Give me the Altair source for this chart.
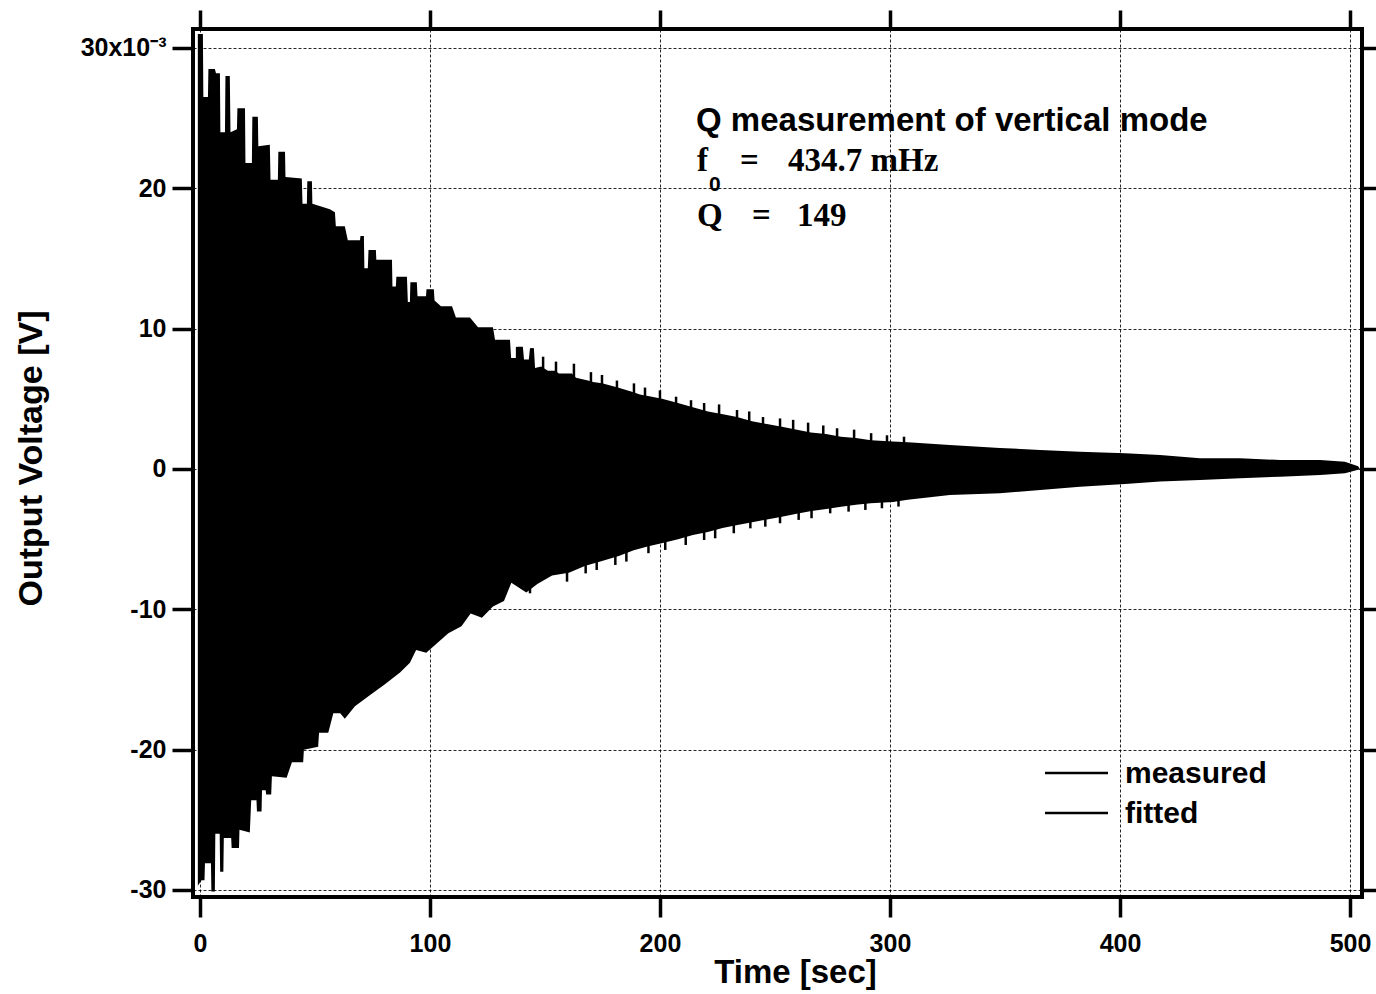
import altair as alt
import pandas as pd

# ---- data (time in s, voltage in mV = 1e-3 V) ----
# upper edge (positive peaks) of the measured ring-down
t_upper = [-0.9, 1.3, 1.5, 3.5, 3.7, 6.5, 7.0, 8.7, 8.9, 10.9, 11.1, 13.0, 13.3, 16.1, 16.3, 19.6,
           19.8, 22.6, 22.8, 25.2, 25.4, 30.4, 30.7, 33.9, 34.1, 37.0, 37.2, 44.3, 44.6, 46.5, 46.7,
           48.7, 48.9, 56.5, 58.7, 59.1, 63.0, 64.3, 69.6, 69.8, 71.3, 71.5, 73.0, 73.3, 76.5, 76.7,
           83.5, 83.7, 85.2, 85.4, 90.0, 90.4, 91.3, 91.5, 94.3, 94.6, 98.3, 98.5, 101.7, 102.0,
           104.8, 109.6, 111.3, 117.4, 120.9, 127.4, 128.3, 134.8, 135.3, 137.8, 138.3, 140.4, 140.9,
           143.0, 143.5, 145.2, 145.7, 148.3, 151.3, 154.3, 156.1, 161.7, 163.5, 168.7, 170.9, 174.8,
           181.7, 187.8, 191.3, 194.8, 200.9, 207.8, 214.3, 220.9, 227.4, 233.5, 240.0, 246.5, 253.0,
           259.6, 265.6, 272.2, 278.7, 285.2, 291.7, 301.3, 307.8, 326.0, 347.8, 365.3, 382.6, 402.2,
           417.4, 434.8, 452.2, 469.6, 487.0, 497.8, 503.5, 504.3]
v_upper = [31.0, 31.0, 26.5, 26.5, 28.5, 28.5, 28.2, 28.2, 24.0, 24.0, 28.0, 28.0, 24.0, 24.2, 25.7, 25.7,
           21.8, 21.8, 25.1, 25.1, 23.0, 23.1, 20.6, 20.6, 22.6, 22.6, 20.8, 20.7, 18.9, 18.9, 20.5,
           20.5, 18.9, 18.5, 18.3, 17.3, 17.3, 16.3, 16.3, 16.6, 16.6, 14.3, 14.3, 15.6, 15.6, 14.9,
           14.9, 13.0, 13.0, 13.7, 13.7, 11.9, 11.9, 13.3, 13.3, 12.3, 12.3, 12.8, 12.8, 12.0,
           11.6, 11.6, 10.8, 10.8, 10.1, 10.1, 9.2, 9.2, 7.9, 7.9, 8.7, 8.7, 7.8,
           7.8, 8.6, 8.6, 7.2, 7.3, 7.0, 7.0, 6.8, 6.8, 6.5, 6.3, 6.2, 6.1,
           5.8, 5.5, 5.3, 5.2, 5.0, 4.7, 4.4, 4.1, 3.9, 3.7, 3.4, 3.2, 3.0,
           2.8, 2.6, 2.5, 2.3, 2.2, 2.05, 1.95, 1.9, 1.7, 1.5, 1.35, 1.23, 1.12,
           1.0, 0.76, 0.76, 0.64, 0.64, 0.52, 0.2, 0.0]

# lower edge (negative peaks)
t_lower = [-0.9, 0.7, 2.0, 2.2, 4.8, 5.0, 6.5, 6.7, 8.6, 8.8, 10.2, 10.4, 13.6, 13.8, 17.0, 17.2,
           21.7, 22.3, 24.6, 24.8, 26.8, 27.0, 28.6, 28.8, 31.0, 31.3, 37.7, 40.0, 44.9, 45.2, 51.4,
           51.8, 55.8, 58.0, 61.0, 63.0, 67.4, 74.0, 80.0, 87.0, 91.3, 94.0, 98.4, 103.2, 108.0,
           113.7, 117.7, 122.6, 127.4, 132.2, 135.4, 141.9, 146.7, 153.1, 160.4, 167.6, 174.1, 182.1,
           188.6, 195.0, 200.7, 207.9, 214.3, 220.8, 227.2, 233.7, 240.1, 246.5, 253.0, 259.4, 265.9,
           272.3, 278.7, 285.2, 291.6, 301.3, 307.7, 326.0, 347.8, 365.3, 382.6, 402.2, 417.4, 434.8,
           452.2, 469.6, 487.0, 497.8, 503.5, 504.3]
v_lower = [-29.7, -29.3, -29.3, -28.1, -28.1, -30.1, -30.1, -26.0, -26.0, -28.7, -28.7, -26.3, -26.3,
           -27.0, -27.0, -25.7, -25.9, -23.6, -23.6, -24.4, -24.4, -22.9, -22.9, -23.2, -23.2, -21.9,
           -22.0, -20.9, -20.9, -20.0, -19.8, -18.8, -18.8, -17.4, -17.4, -17.8, -16.9, -16.1, -15.4,
           -14.5, -13.8, -12.9, -13.1, -12.4, -11.7, -11.2, -10.3, -10.6, -9.8, -9.4, -8.1, -8.8, -8.2,
           -7.6, -7.4, -6.9, -6.6, -6.2, -5.8, -5.5, -5.3, -5.0, -4.7, -4.5, -4.2, -4.0, -3.8, -3.6,
           -3.4, -3.2, -3.0, -2.85, -2.7, -2.55, -2.45, -2.35, -2.2, -1.85, -1.73, -1.5, -1.26, -1.07,
           -0.9, -0.78, -0.66, -0.55, -0.43, -0.31, -0.05, 0.0]

# isolated narrow peaks standing out of the envelope (upper side)
t_spike_up = [137.9, 144.4, 149.2, 154.8, 162.6, 170.0, 174.8, 181.3, 188.7, 193.5, 200.0, 207.0,
              213.5, 219.2, 225.7, 233.5, 238.8, 244.8, 252.2, 257.9, 264.4, 271.0, 277.0, 284.4,
              291.8, 298.7, 306.1]
v_spike_up = [8.7, 8.6, 8.0, 7.65, 7.5, 6.9, 6.7, 6.3, 6.1, 5.8, 5.6, 5.15,
              4.9, 4.7, 4.6, 4.2, 4.1, 3.7, 3.6, 3.5, 3.3, 3.1, 2.9, 2.8,
              2.55, 2.4, 2.3]
# isolated narrow peaks (lower side)
t_spike_dn = [143.5, 159.6, 167.7, 172.5, 180.6, 185.4, 195.0, 202.3, 211.2, 219.2, 224.0, 232.1,
              239.3, 245.8, 252.2, 260.3, 265.9, 274.0, 282.0, 289.3, 296.5, 303.7]
v_spike_dn = [-8.86, -8.03, -7.44, -7.2, -6.84, -6.6, -6.0, -5.77, -5.42, -5.06, -4.94, -4.58,
              -4.23, -4.11, -3.87, -3.63, -3.51, -3.16, -3.04, -2.92, -2.8, -2.68]

x_ticks = [0, 100, 200, 300, 400, 500]
y_ticks = [-30, -20, -10, 0, 10, 20, 30]

note_title = "Q measurement of vertical mode"
legend_labels = ["measured", "fitted"]

SANS = "Liberation Sans"
SERIF = "Liberation Serif"

upper = pd.DataFrame({"t": t_upper, "v": v_upper})
lower = pd.DataFrame({"t": t_lower, "v": v_lower})
spikes = pd.DataFrame({"t": t_spike_up + t_spike_dn, "v": v_spike_up + v_spike_dn})

xs = alt.Scale(domain=[-3, 505.2], nice=False, zero=False)
ys = alt.Scale(domain=[-30.5, 31.35], nice=False, zero=False)

y_label_expr = ("datum.value == 30 ? '30x10\u207b\u00b3' : "
                "(datum.value < 0 ? '-' + (-datum.value) : '' + datum.value)")

up = alt.Chart(upper).mark_area(color="black", opacity=1).encode(
    x=alt.X("t:Q", scale=xs, axis=alt.Axis(
        orient="bottom", values=x_ticks, format="d", title="Time [sec]",
        tickSize=20, labelPadding=14, labelFlush=False, grid=True,
        titleFontSize=33, titleX=602, titleY=85, titleAlign="center",
        titleBaseline="alphabetic")),
    y=alt.Y("v:Q", scale=ys, axis=alt.Axis(
        orient="left", values=y_ticks, title="Output Voltage [V]",
        labelExpr=y_label_expr,
        tickSize=21, labelPadding=6, labelFlush=False, grid=True,
        titleFontSize=34, titleX=-152, titleY=429, titleAlign="center",
        titleBaseline="alphabetic", titleAngle=270)),
    y2=alt.datum(0),
)

lo = alt.Chart(lower).mark_area(color="black", opacity=1).encode(
    x=alt.X("t:Q", scale=xs, axis=alt.Axis(
        orient="top", values=x_ticks, labels=False, title=None, tickSize=19, grid=False)),
    y=alt.Y("v:Q", scale=ys, axis=alt.Axis(
        orient="right", values=y_ticks, labels=False, title=None, tickSize=14, grid=False)),
    y2=alt.datum(0),
)

sp = alt.Chart(spikes).mark_rule(color="black", strokeWidth=2.5).encode(
    x=alt.X("t:Q", scale=xs, axis=None),
    y=alt.Y("v:Q", scale=ys, axis=None),
    y2=alt.datum(0),
)

one = pd.DataFrame({"k": [0]})


def txt(s, x, y, font, size, weight="bold"):
    return alt.Chart(one).mark_text(
        font=font, fontSize=size, fontWeight=weight, color="black",
        align="left", baseline="alphabetic").encode(
        x=alt.value(x), y=alt.value(y), text=alt.value(s))


notes = [
    txt(note_title, 503, 102, SANS, 33),
    txt("f", 504, 142, SERIF, 33),
    txt("0", 516, 162, SANS, 21),
    txt("=", 547, 142, SERIF, 33),
    txt("434.7 mHz", 595, 142, SERIF, 33),
    txt("Q", 504, 197, SERIF, 33),
    txt("=", 559, 197, SERIF, 33),
    txt("149", 604, 197, SERIF, 33),
    txt(legend_labels[0], 932, 754, SANS, 30),
    txt(legend_labels[1], 932, 794, SANS, 30),
]

leg_lines = [
    alt.Chart(one).mark_rule(color="black", strokeWidth=2.5).encode(
        x=alt.value(852), x2=alt.value(915), y=alt.value(yy))
    for yy in (744, 784)
]

chart = alt.layer(up, lo, sp, *notes, *leg_lines).resolve_axis(
    x="independent", y="independent"
).properties(
    width=1169, height=868,
    autosize=alt.AutoSizeParams(type="none"),
    padding={"left": 193, "top": 29, "right": 14, "bottom": 97},
    background="white",
).configure_view(
    stroke="black", strokeWidth=4
).configure_axis(
    domain=False,
    labelFont=SANS, labelFontWeight="bold", labelFontSize=25, labelColor="black",
    tickColor="black", tickWidth=3.5,
    gridColor="black", gridDash=[3, 2], gridWidth=1, gridOpacity=0.85,
    titleFont=SANS, titleFontWeight="bold", titleColor="black",
)

chart.save("out.html", embed_options={"renderer": "svg", "actions": False})
